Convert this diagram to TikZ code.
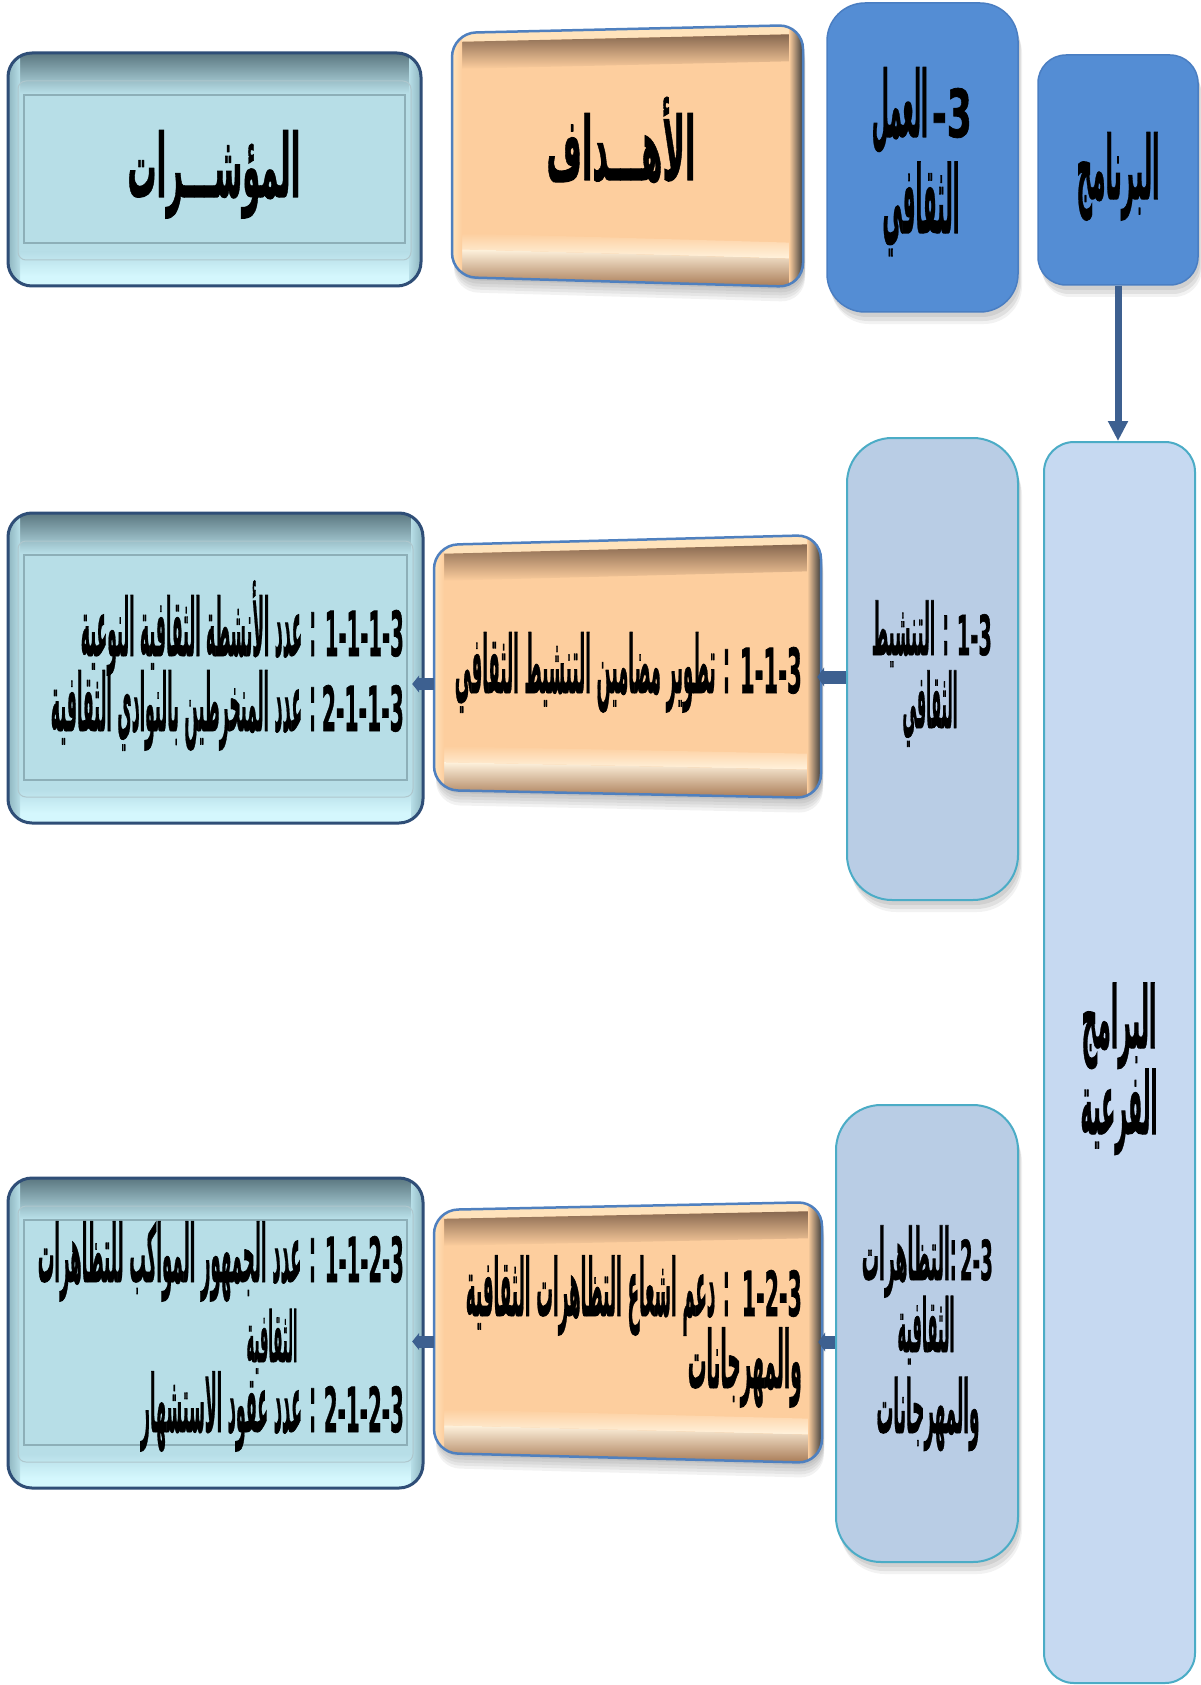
\documentclass[tikz,border=0pt]{standalone}
\usepackage{fontspec}
\usepackage{graphicx}
\usetikzlibrary{arrows.meta,calc}
\TeXXeTstate=1
\newfontfamily\arb[Script=Arabic,FakeBold=1.2]{DejaVu Sans Bold}
\definecolor{ifill}{HTML}{B7DEE7}
\definecolor{itop}{HTML}{5B7780}
\definecolor{iside}{HTML}{8EB5BF}
\definecolor{ilight}{HTML}{D4F7FD}
\definecolor{iborder}{HTML}{2F4E77}
\definecolor{iline}{HTML}{8DAFB8}
\definecolor{ofill}{HTML}{FDCE9E}
\definecolor{olight}{HTML}{FFE3BC}
\definecolor{obrown}{HTML}{86674F}
\definecolor{ohigh}{HTML}{FFF3DE}
\definecolor{obot}{HTML}{A87A55}
\definecolor{odark}{HTML}{3B3B3B}
\definecolor{oborder}{HTML}{4F80BF}
\definecolor{hblue}{HTML}{548DD4}
\definecolor{hborder}{HTML}{4A7EC2}
\definecolor{subfill}{HTML}{B9CDE5}
\definecolor{tallfill}{HTML}{C6D9F1}
\definecolor{tealb}{HTML}{4BACC6}
\definecolor{conncol}{HTML}{3D6090}
% Arabic run: width, size, content (content carries its own \beginR ... \endR)
\newcommand\AR[3]{\resizebox{#1pt}{\height}{\fontsize{#2}{#2}\selectfont\arb #3}}
% number group: width, size, digits (set left to right)
\newcommand\DG[3]{\resizebox{#1pt}{\height}{\fontsize{#2}{#2}\selectfont\arb #3}}
% orange box: name, x0, x1, yTL, yTR, yBL, yBR
\newcommand\obox[7]{%
  \node[inner sep=0pt,minimum width={#3-#2},minimum height={(#6+#7-#4-#5)/2}] (#1) at ({(#2+#3)/2},{(#4+#5+#6+#7)/4}) {};
  \foreach \k in {1,...,5}{\fill[black,opacity=0.05,rounded corners=24] (#2+2,#4+2*\k+4) -- (#3+2,#5+2*\k+4) -- (#3+2,#7+3*\k) -- (#2+2,#6+3*\k) -- cycle;}
  \fill[ofill,rounded corners=24] (#2,#4) -- (#3,#5) -- (#3,#7) -- (#2,#6) -- cycle;
  \begin{scope}
    \clip[rounded corners=24] (#2,#4) -- (#3,#5) -- (#3,#7) -- (#2,#6) -- cycle;
    \fill[olight] (#2,#4) -- (#3,#5) -- (#3,#5+9) -- (#2,#4+9) -- cycle;
    \shade[top color=obrown,bottom color=ofill] (#2,#4+9) -- (#3,#5+9) -- (#3,#5+36) -- (#2,#4+36) -- cycle;
    \shade[top color=ofill,bottom color=ohigh] (#2,#6-44) -- (#3,#7-44) -- (#3,#7-28) -- (#2,#6-28) -- cycle;
    \shade[top color=ohigh,bottom color=obot] (#2,#6-28) -- (#3,#7-28) -- (#3,#7) -- (#2,#6) -- cycle;
    \shade[left color=olight,right color=ofill] (#2,#4) rectangle (#2+10,#6);
    \shade[left color=ofill,right color=odark] (#3-14,#5) rectangle (#3,#7);
  \end{scope}
  \draw[oborder,line width=2.5pt,rounded corners=24] (#2,#4) -- (#3,#5) -- (#3,#7) -- (#2,#6) -- cycle;
}
% indicator box: name, x0, y0, x1, y1
\newcommand\ibox[5]{%
  \node[inner sep=0pt,minimum width={#4-#2},minimum height={#5-#3}] (#1) at ({(#2+#4)/2},{(#3+#5)/2}) {};
  \fill[ifill,rounded corners=24] (#2,#3) rectangle (#4,#5);
  \begin{scope}
    \clip[rounded corners=24] (#2,#3) rectangle (#4,#5);
    \shade[top color=itop,bottom color=ifill] (#2,#3) rectangle (#4,#3+40);
    \shade[top color=ifill,bottom color=ilight] (#2,#5-34) rectangle (#4,#5-10);
    \fill[ilight] (#2,#5-10) rectangle (#4,#5);
    \shade[left color=iside,right color=ifill] (#2,#3) rectangle (#2+12,#5);
    \shade[left color=ifill,right color=iside] (#4-12,#3) rectangle (#4,#5);
  \end{scope}
  \draw[iline!70,line width=1pt,rounded corners=8] (#2+10,#3+28) rectangle (#4-10,#5-26);
  \draw[iline,line width=1.6pt] (#2+16,#3+42) rectangle (#4-16,#5-43);
  \draw[iborder,line width=3pt,rounded corners=24] (#2,#3) rectangle (#4,#5);
}
\begin{document}
\begin{tikzpicture}[x=1pt,y=-1pt,
  barline/.style={draw=conncol,line width=13pt},
  txt/.style={inner sep=0pt,text=black},
  sshadow/.style={preaction={fill=black,opacity=.07,transform canvas={xshift=2pt,yshift=-5pt}},
                  preaction={fill=black,opacity=.07,transform canvas={xshift=3pt,yshift=-9pt}},
                  preaction={fill=black,opacity=.05,transform canvas={xshift=4pt,yshift=-12pt}}},
  hdrbox/.style={fill=hblue,draw=hborder,line width=1.5pt,inner sep=0pt,sshadow},
  subbox/.style={fill=subfill,draw=tealb,line width=2pt,inner sep=0pt,sshadow},
  tallbox/.style={fill=tallfill,draw=tealb,line width=2pt,inner sep=0pt}]
\fill[white] (0,0) rectangle (1200,1685);
\useasboundingbox (0,0) rectangle (1200,1685);

% right column boxes
\node[hdrbox,rounded corners=38,minimum width=191,minimum height=309] (sec) at (922.5,157.5) {};
\node[hdrbox,rounded corners=28,minimum width=160,minimum height=230] (prog) at (1118,170) {};
\node[tallbox,rounded corners=30,minimum width=151,minimum height=1241] (subs) at (1119.5,1062.5) {};
\node[subbox,rounded corners=45,minimum width=171,minimum height=462] (sub1) at (932.5,669) {};
\node[subbox,rounded corners=45,minimum width=182,minimum height=457] (sub2) at (927,1333.5) {};

% objective boxes
\obox{obj0}{452}{803}{33}{25}{277}{287}
\obox{obj1}{434}{821}{545}{535}{790}{798}
\obox{obj2}{434}{822}{1210}{1202}{1453}{1463}

% indicator boxes
\ibox{ind0}{8}{53}{421}{286}
\ibox{ind1}{8}{513}{423}{823}
\ibox{ind2}{8}{1178}{423}{1488}

% connectors
\draw[barline,line width=7pt,-{Triangle[length=20pt,width=19pt]}] (prog.south) -- (prog.south |- subs.north);
\coordinate (c1) at ($(sub1.west)+(0,8)$);
\draw[barline,-{Triangle[length=7pt,width=19pt]}] (c1) -- ($(c1 -| obj1.east)+(-4,0)$);
\coordinate (c2) at ($(obj1.west)+(0,17)$);
\draw[barline,line width=12pt,-{Triangle[length=7pt,width=17pt]}] (c2) -- ($(c2 -| ind1.east)+(-11,0)$);
\coordinate (c3) at ($(sub2.west)+(0,8.5)$);
\draw[barline,-{Triangle[length=7pt,width=19pt]}] (c3) -- ($(c3 -| obj2.east)+(-4,0)$);
\coordinate (c4) at ($(obj2.west)+(0,9.5)$);
\draw[barline,line width=12pt,-{Triangle[length=7pt,width=17pt]}] (c4) -- ($(c4 -| ind2.east)+(-11,0)$);

% texts
\node[txt,anchor=base] (t1) at (214,197) {\AR{173}{88}{\beginR المؤشـــرات\endR}};
\node[txt,anchor=base] (t2) at (621,180) {\AR{149}{88}{\beginR الأهـــداف\endR}};
\node[txt,anchor=base east] (t3) at (972,137) {\AR{56}{92}{\beginR العمل\endR}\hspace{4pt}\DG{40}{66}{3-}};
\node[txt,anchor=base] (t4) at (921,233) {\AR{77}{94}{\beginR الثقافي\endR}};
\node[txt,anchor=base] (t5) at (1118,199) {\AR{83}{88}{\beginR البرنامج\endR}};
\node[txt,anchor=base] (t6) at (1119,1048) {\AR{75}{86}{\beginR البرامج\endR}};
\node[txt,anchor=base] (t7) at (1119,1134) {\AR{77}{86}{\beginR الفرعية\endR}};
\node[txt,anchor=base east] (t8) at (992,655) {\AR{77}{72}{\beginR: التنشيط\endR}\hspace{8pt}\DG{35}{55}{1-3}};
\node[txt,anchor=base] (t9) at (930,728) {\AR{55}{76}{\beginR الثقافي\endR}};
\node[txt,anchor=base east] (t10) at (993,1280) {\AR{95}{72}{\beginR:التظاهرات\endR}\hspace{3pt}\DG{33}{55}{2-3}};
\node[txt,anchor=base] (t11) at (926,1352) {\AR{57}{74}{\beginR الثقافية\endR}};
\node[txt,anchor=base] (t12) at (928,1433) {\AR{103}{74}{\beginR والمهرجانات\endR}};
\node[txt,anchor=base east] (t13) at (802,693) {\AR{275}{80}{\beginR: تطوير مضامين التنشيط الثقافي\endR}\hspace{10pt}\DG{62}{62}{1-1-3}};
\node[txt,anchor=base east] (t14) at (404,656) {\AR{235}{80}{\beginR: عدد الأنشطة الثقافية النوعية\endR}\hspace{9pt}\DG{79}{62}{1-1-1-3}};
\node[txt,anchor=base east] (t15) at (404,731) {\AR{265}{80}{\beginR: عدد المنخرطين بالنوادي الثقافية\endR}\hspace{6pt}\DG{82}{62}{2-1-1-3}};
\node[txt,anchor=base east] (t16) at (802,1316) {\AR{264}{80}{\beginR: دعم اشعاع التظاهرات الثقافية\endR}\hspace{12pt}\DG{60}{62}{1-2-3}};
\node[txt,anchor=base east] (t17) at (802,1388) {\AR{114}{80}{\beginR والمهرجانات\endR}};
\node[txt,anchor=base east] (t18) at (404,1282) {\AR{278}{80}{\beginR: عدد الجمهور المواكب للتظاهرات\endR}\hspace{9pt}\DG{79}{62}{1-1-2-3}};
\node[txt,anchor=base] (t19) at (272,1362) {\AR{51}{70}{\beginR الثقافية\endR}};
\node[txt,anchor=base east] (t20) at (404,1432) {\AR{175}{80}{\beginR: عدد عقود الاستشهار\endR}\hspace{8pt}\DG{80}{62}{2-1-2-3}};
\end{tikzpicture}
\end{document}
